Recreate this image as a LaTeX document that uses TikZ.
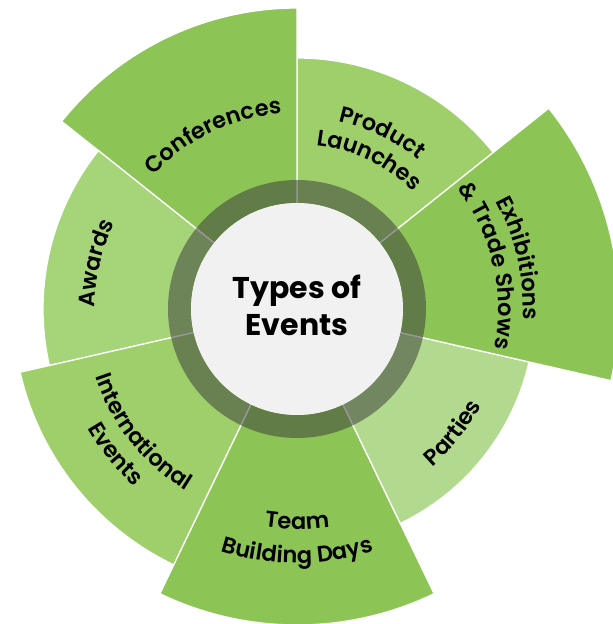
\documentclass[tikz,border=0pt]{standalone}
\usepackage{fontspec}
\setmainfont{Poppins}
\IfFontExistsTF{Poppins SemiBold}{\newfontfamily\labfont{Poppins SemiBold}}{\newfontfamily\labfont{Poppins}[FakeBold=1.2]}
\usetikzlibrary{decorations.text}
\definecolor{gA}{RGB}{140,197,85}
\definecolor{gB}{RGB}{158,207,106}
\definecolor{gC}{RGB}{165,212,121}
\definecolor{gD}{RGB}{178,218,142}
\definecolor{ringgray}{RGB}{58,58,58}
\definecolor{hub}{RGB}{241,241,241}
\newcommand\labf{\labfont\fontsize{22.5}{22.5}\selectfont}
\tikzset{
  sector/.style={draw=white, line width=1.3pt},
  ringlayer/.style={fill=ringgray, fill opacity=0.52, even odd rule},
  hubtext/.style={font=\bfseries\fontsize{30}{37}\selectfont, align=center, text=black},
}
% #1 start angle, #2 end angle, #3 radius, #4 text
\newcommand\arclabel[4]{\path[decorate, decoration={text along path, text align=center, text={|\labf|#4}}] (#1:#3) arc[start angle=#1, end angle=#2, radius=#3];}
\begin{document}
\begin{tikzpicture}[x=1pt,y=1pt]
\useasboundingbox (-297,-315) rectangle (316,309);
\clip (-297,-315) rectangle (316,309);
% sectors
\fill[gB, sector] (0,0) -- (38.5714:251) arc[start angle=38.5714, end angle=90, radius=251] -- cycle;
\fill[gA, sector] (0,0) -- (90:301) arc[start angle=90, end angle=141.4286, radius=301] -- cycle;
\fill[gC, sector] (0,0) -- (141.4286:254) arc[start angle=141.4286, end angle=192.8571, radius=254] -- cycle;
\fill[gB, sector] (0,0) -- (192.8571:284) arc[start angle=192.8571, end angle=244.2857, radius=284] -- cycle;
\fill[gA, sector] (0,0) -- (244.2857:316) arc[start angle=244.2857, end angle=295.7143, radius=316] -- cycle;
\fill[gD, sector] (0,0) -- (295.7143:238) arc[start angle=295.7143, end angle=347.1429, radius=238] -- cycle;
\fill[gA, sector] (0,0) -- (-12.8571:322) arc[start angle=-12.8571, end angle=38.5714, radius=322] -- cycle;
% ring and hub
\fill[ringlayer] (0,0) circle[radius=129] (0,0) circle[radius=106];
\fill[hub] (0,0) circle[radius=106];
\node[hubtext] (hubtitle) at (0,4) {Types of\\Events};
% labels
\arclabel{155.714}{75.714}{196}{Conferences}
\arclabel{104.286}{24.286}{192}{Product}
\arclabel{104.286}{24.286}{165}{Launches}
\arclabel{52.857}{-27.143}{226}{Exhibitions}
\arclabel{52.857}{-27.143}{201}{{\&} Trade Shows}
\arclabel{-83.571}{6.429}{208}{Parties}
\arclabel{-135}{-45}{220}{Team}
\arclabel{-135}{-45}{254}{Building Days}
\arclabel{-186.429}{-96.429}{213}{International}
\arclabel{-186.429}{-96.429}{241}{Events}
\arclabel{212.143}{122.143}{202}{Awards}
\end{tikzpicture}
\end{document}
